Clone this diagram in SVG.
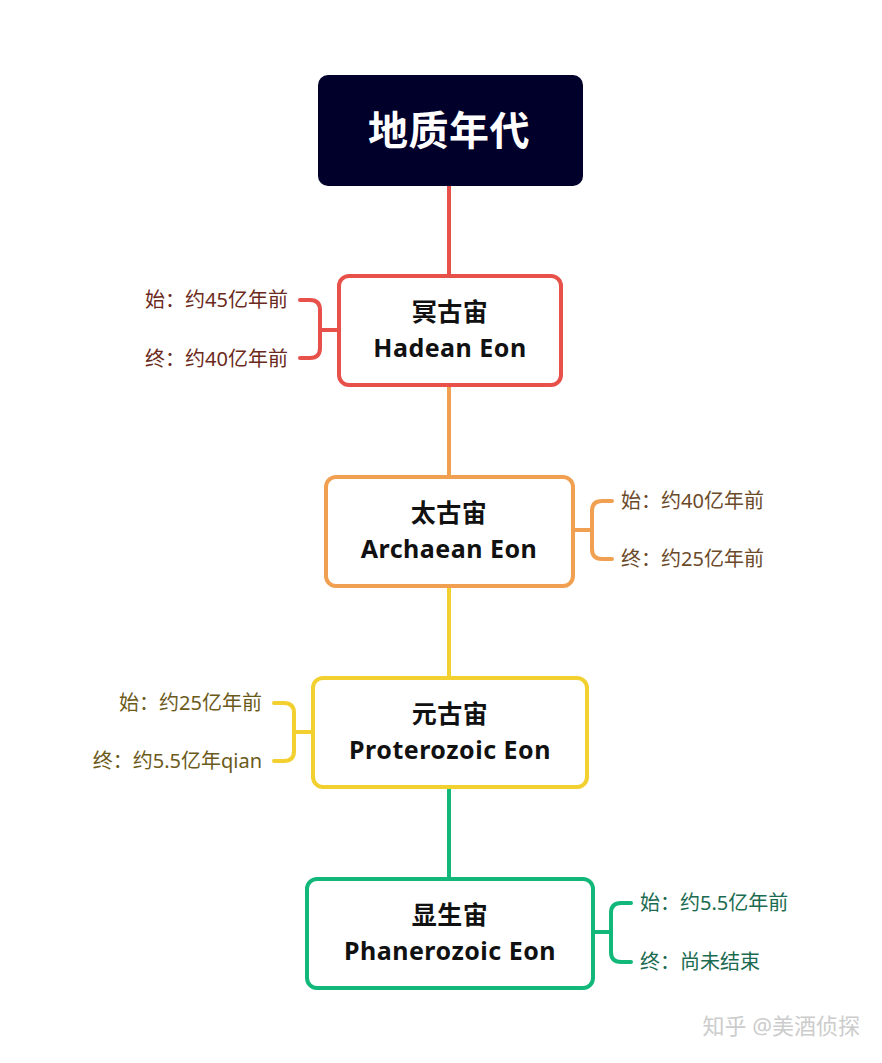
<svg xmlns="http://www.w3.org/2000/svg" width="882" height="1063" viewBox="0 0 882 1063">
<style>
.n{fill:#fff;stroke-width:4}
.t{font-family:"Noto Sans","Noto Sans CJK SC",sans-serif;font-weight:bold;font-size:25px;text-anchor:middle;fill:#111;letter-spacing:0.5px}
.l{font-family:"Noto Sans","Noto Sans CJK SC",sans-serif;font-size:20px}
.c{fill:none;stroke-width:4;stroke-linecap:round}
</style>
<rect width="882" height="1063" fill="#fff"/>
<g id="connectors">
<line x1="449" y1="186" x2="449" y2="276" stroke="#E8504A" class="c"/>
<line x1="449" y1="385" x2="449" y2="477" stroke="#F0A050" class="c"/>
<line x1="449" y1="586" x2="449" y2="678" stroke="#F2D030" class="c"/>
<line x1="449" y1="787" x2="449" y2="879" stroke="#12B77A" class="c"/>
<path class="c" stroke="#E8504A" d="M300 300H310Q320 300 320 310V348Q320 358 310 358H300M320 330H339"/>
<path class="c" stroke="#F0A050" d="M612 501H602Q592 501 592 511V549Q592 559 602 559H612M592 530H573"/>
<path class="c" stroke="#F2D030" d="M274 703H284Q294 703 294 713V751Q294 761 284 761H274M294 732H313"/>
<path class="c" stroke="#12B77A" d="M631 903H621Q611 903 611 913V952Q611 962 621 962H631M611 932H593"/>
</g>
<g id="root"><rect x="318" y="75" width="265" height="111" rx="10" fill="#00002A"/>
<text x="449" y="145" class="t" style="font-size:40px;fill:#fff">地质年代</text></g>
<g id="hadean"><rect x="339" y="276" width="222" height="109" rx="10" class="n" stroke="#E8504A"/>
<text x="450" y="321" class="t">冥古宙</text><text x="450" y="357" class="t">Hadean Eon</text>
<text x="288" y="307" class="l" text-anchor="end" fill="#6B2A20">始：约45亿年前</text>
<text x="288" y="366" class="l" text-anchor="end" fill="#6B2A20">终：约40亿年前</text></g>
<g id="archaean"><rect x="326" y="477" width="247" height="109" rx="10" class="n" stroke="#F0A050"/>
<text x="449" y="522" class="t">太古宙</text><text x="449" y="558" class="t">Archaean Eon</text>
<text x="621" y="508" class="l" fill="#6B4A2A">始：约40亿年前</text>
<text x="621" y="566" class="l" fill="#6B4A2A">终：约25亿年前</text></g>
<g id="proterozoic"><rect x="313" y="678" width="274" height="109" rx="10" class="n" stroke="#F2D030"/>
<text x="450" y="723" class="t">元古宙</text><text x="450" y="759" class="t">Proterozoic Eon</text>
<text x="262" y="710" class="l" text-anchor="end" fill="#6B5A1A">始：约25亿年前</text>
<text x="262" y="768" class="l" text-anchor="end" fill="#6B5A1A">终：约5.5亿年qian</text></g>
<g id="phanerozoic"><rect x="307" y="879" width="286" height="109" rx="10" class="n" stroke="#12B77A"/>
<text x="450" y="924" class="t">显生宙</text><text x="450" y="960" class="t">Phanerozoic Eon</text>
<text x="640" y="910" class="l" fill="#1A6B50">始：约5.5亿年前</text>
<text x="640" y="969" class="l" fill="#1A6B50">终：尚未结束</text></g>
<text x="860" y="1034" class="l" text-anchor="end" style="font-size:22px" fill="#ccc">知乎 @美酒侦探</text>
</svg>
